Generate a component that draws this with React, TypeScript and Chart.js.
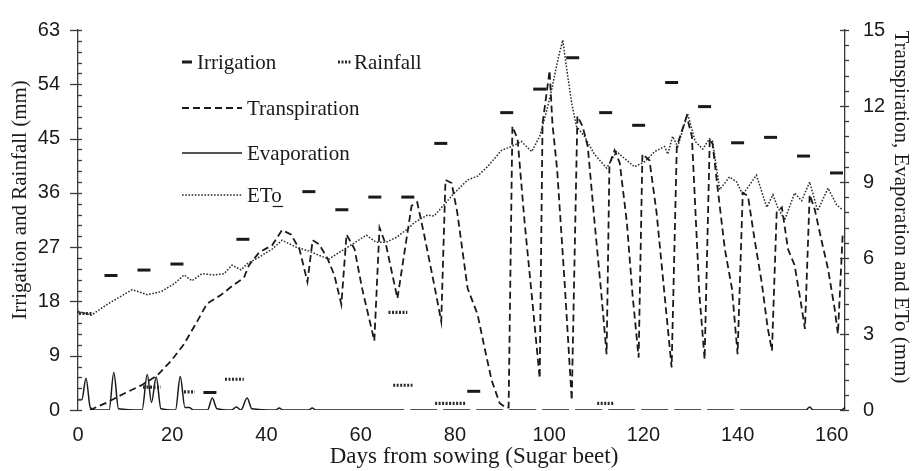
import React, { useEffect, useRef } from "react";
import { Chart, registerables } from "chart.js";

Chart.register(...registerables);

// ---------- DATA ----------
const xTicks = [0, 20, 40, 60, 80, 100, 120, 140, 160];
const leftTicks = [0, 9, 18, 27, 36, 45, 54, 63];
const rightTicks = [0, 3, 6, 9, 12, 15];

// Irrigation (mm, left axis)
const irrigationDays = [7, 14, 21, 28, 35, 49, 56, 63, 70, 77, 84, 91, 98, 105, 112, 119, 126, 133, 140, 147, 154, 161];
const irrigationMm = [22.3, 23.2, 24.2, 2.9, 28.3, 36.2, 33.2, 35.3, 35.3, 44.2, 3.1, 49.3, 53.2, 58.4, 49.3, 47.2, 54.3, 50.3, 44.3, 45.2, 42.1, 39.3];

// Rainfall (mm, left axis) – short runs
const rainStart = [0.2, 13.8, 22.5, 31.2, 65.9, 66.9, 75.8, 110.2];
const rainEnd = [3.2, 17.6, 24.8, 35.2, 69.9, 71.0, 82.2, 113.7];
const rainMm = [16, 3.8, 3.0, 5.1, 16.2, 4.1, 1.1, 1.1];

// Transpiration (mm, right axis)
const transpirationDays = [2.5, 6.2, 9.8, 13.4, 16.8, 19.8, 22.5, 25.3, 27.4, 30.4, 33.1, 34.6, 35.3, 36.3, 38.5, 41.2, 43.3, 45.2, 47, 48.7, 49.8, 51.2, 53, 54.4, 55.9, 57, 58.7, 60.3, 62.9, 64, 65.4, 67.8, 69.3, 70.8, 72, 73.5, 75.6, 77.1, 78, 79.3, 80.5, 82.7, 84.8, 86.3, 87.8, 89.5, 90.9, 91.4, 92.2, 93.3, 94.8, 96.5, 98, 98.6, 100.1, 100.7, 101.7, 103.3, 104.8, 106, 107.1, 108.2, 109.6, 111.1, 112.2, 112.8, 113.9, 115, 116.5, 117.7, 119, 119.8, 121.3, 122.8, 124.5, 126, 127.1, 129.2, 130.3, 131.9, 133, 134.1, 134.7, 135.8, 137.3, 138.8, 140, 141.1, 142.2, 143.6, 145.1, 146.4, 147.3, 148.3, 149.4, 150.7, 152.1, 153.4, 154.3, 155.3, 156.4, 157.9, 159.2, 160.6, 161.3, 162.3];
const transpirationMm = [0, 0.3, 0.65, 0.97, 1.36, 1.95, 2.6, 3.5, 4.2, 4.55, 4.95, 5.14, 5.26, 5.72, 6.23, 6.5, 7.1, 6.93, 6.35, 5.06, 6.7, 6.54, 5.96, 5.33, 4.17, 6.93, 6.35, 4.8, 2.73, 7.2, 6.5, 4.4, 6.23, 8.06, 8.2, 6.9, 4.95, 3.5, 9.08, 8.96, 7.8, 4.8, 3.78, 2.45, 1.17, 0.27, 0.08, 0.1, 11.2, 10.7, 7.4, 4.17, 1.25, 11.3, 13.4, 11.3, 9.5, 5.0, 0.39, 11.6, 11.2, 10.4, 7.5, 4.55, 2.2, 9.7, 10.25, 9.74, 7.4, 4.55, 2.07, 10.1, 9.86, 7.8, 4.55, 1.68, 10.4, 11.6, 10.8, 4.55, 2.0, 10.7, 10.5, 8.7, 6.35, 4.8, 2.2, 8.57, 8.45, 6.74, 5.06, 3.23, 2.34, 7.8, 8.0, 6.35, 5.72, 4.28, 3.2, 8.5, 7.9, 6.62, 5.57, 4.0, 3.0, 6.9];

// Evaporation (mm, right axis)
const evaporationDays = [0, 0.8, 1.7, 2.6, 3.5, 6.6, 7.6, 8.6, 13.6, 14.7, 15.6, 16.6, 17.6, 20.7, 21.7, 22.7, 23.6, 24.5, 27.5, 28.5, 29.5, 32.6, 33.6, 34.6, 35.9, 36.9, 42, 42.7, 43.5, 49, 49.7, 50.5, 63.5, 141, 154.5, 155.3, 156, 162, 162.8];
const evaporationMm = [0.4, 0.4, 1.25, 0.1, 0, 0, 1.48, 0.05, 0, 1.4, 0.3, 1.3, 0.05, 0, 1.32, 0.1, 0.1, 0, 0, 0.47, 0.05, 0, 0.12, 0, 0.47, 0.05, 0, 0.08, 0, 0, 0.08, 0, 0, 0, 0, 0.12, 0, 0, 0.1];

// ETo (mm, right axis)
const etoDays = [0, 2.8, 6.2, 8.3, 11.5, 14.7, 17.6, 20.4, 22.5, 24.2, 26.3, 28.9, 31, 32.7, 34.6, 35.9, 38.5, 41.2, 43.3, 46.3, 49.1, 51.2, 53.3, 55.5, 58.2, 61.2, 63.3, 65.4, 67.6, 70.3, 71.4, 74.2, 75.6, 79.9, 82.7, 84.8, 86.9, 89.9, 92, 94.1, 96.3, 98, 99.4, 100.5, 101.6, 102.2, 102.9, 103.7, 104.8, 105.8, 107.5, 109.6, 112.2, 114.3, 116, 118.1, 120.3, 122.4, 124.5, 125.2, 126.2, 127.3, 129.4, 131, 132.6, 134, 134.7, 136.2, 138.3, 139.8, 141.1, 144, 146.2, 147.5, 148.5, 150, 152.1, 153.6, 155.3, 157, 159.2, 161, 162.3];
const etoMm = [3.9, 3.74, 4.17, 4.4, 4.75, 4.55, 4.67, 4.98, 5.33, 5.1, 5.38, 5.33, 5.38, 5.72, 5.53, 5.77, 6.04, 6.35, 6.7, 6.43, 6.27, 6.1, 5.96, 6.23, 6.54, 6.9, 6.62, 6.62, 6.82, 7.2, 7.4, 7.7, 7.66, 8.57, 9.08, 9.23, 9.6, 10.25, 10.4, 10.6, 10.2, 10.8, 11.76, 12.6, 13.6, 14.1, 14.6, 13.5, 12.1, 11.2, 10.8, 10.1, 9.55, 10.2, 9.93, 9.6, 9.8, 10.2, 10.4, 10.1, 10.8, 10.4, 11.7, 10.6, 10.3, 10.7, 10.6, 8.7, 9.2, 9.0, 8.5, 9.27, 8.0, 8.5, 8.0, 7.5, 8.57, 8.26, 9.0, 7.87, 8.76, 8.1, 7.9];

const xTitle = "Days from sowing (Sugar beet)";
const leftTitle = "Irrigation and Rainfall (mm)";
const rightTitle = "Transpiration, Evaporation and ETo (mm)";

// ---------- STYLE ----------
const INK = "#1a1a1a";
const AXIS = "#3a3a3a";
const SERIF = '"Liberation Serif", "Times New Roman", serif';
const SANS = '"Liberation Sans Narrow", "Arial Narrow", "Liberation Sans", Arial, sans-serif';
const TRANS_DASH = [7, 4];
const ETO_DASH = [1.6, 1.6];
const RAIN_DASH = [2, 1.5];
const EVAP_GAP_DASH = [27, 6];

const zip = (xs: number[], ys: number[]) => xs.map((x, i) => ({ x, y: ys[i] }));

const rainData = (() => {
  const out: { x: number; y: number | null }[] = [];
  rainStart.forEach((s, i) => {
    out.push({ x: s, y: rainMm[i] });
    out.push({ x: rainEnd[i], y: rainMm[i] });
    out.push({ x: rainEnd[i] + 0.01, y: null });
  });
  return out;
})();

const decorPlugin = {
  id: "decor",
  afterDraw(chart: any) {
    const ctx = chart.ctx as CanvasRenderingContext2D;
    const yL = chart.scales.yL;
    const yR = chart.scales.yR;
    const area = chart.chartArea;
    ctx.save();
    ctx.strokeStyle = AXIS;
    ctx.lineWidth = 1.3;
    const nL = Math.round((yL.max - yL.min) / 1.8);
    for (let i = 0; i <= nL; i++) {
      const v = yL.min + i * 1.8;
      const py = Math.round(yL.getPixelForValue(v)) + 0.5;
      const ax = area.left;
      ctx.beginPath();
      ctx.moveTo(i % 5 === 0 ? ax - 8 : ax, py);
      ctx.lineTo(ax + 4, py);
      ctx.stroke();
    }
    const nR = Math.round((yR.max - yR.min) / 0.6);
    for (let i = 0; i <= nR; i++) {
      const v = yR.min + i * 0.6;
      const py = Math.round(yR.getPixelForValue(v)) + 0.5;
      const ax = area.right;
      ctx.beginPath();
      ctx.moveTo(i % 5 === 0 ? ax - 5 : ax, py);
      ctx.lineTo(ax + 4, py);
      ctx.stroke();
    }

    // axis titles
    ctx.fillStyle = INK;
    ctx.font = `21px ${SERIF}`;
    ctx.textAlign = "center";
    ctx.textBaseline = "middle";
    ctx.save();
    ctx.translate(20, 200);
    ctx.rotate(-Math.PI / 2);
    ctx.fillText(leftTitle, 0, 0);
    ctx.restore();
    ctx.save();
    ctx.translate(901, 207);
    ctx.rotate(Math.PI / 2);
    ctx.fillText(rightTitle, 0, 0);
    ctx.restore();
    ctx.font = `23px ${SERIF}`;
    ctx.fillText(xTitle, 474, 457);

    // legend
    const ds = chart.data.datasets;
    ctx.textAlign = "left";
    ctx.font = `21px ${SERIF}`;
    const sample = (d: any, x0: number, x1: number, y: number, lw?: number) => {
      ctx.save();
      ctx.strokeStyle = d.borderColor;
      ctx.lineWidth = lw ?? d.borderWidth;
      ctx.setLineDash(d.borderDash || []);
      ctx.beginPath();
      ctx.moveTo(x0, y);
      ctx.lineTo(x1, y);
      ctx.stroke();
      ctx.restore();
    };
    sample({ borderColor: INK, borderWidth: 3 }, 182, 192, 62);
    ctx.fillText(ds[0].label, 197, 63);
    sample(ds[1], 338, 351, 62);
    ctx.fillText(ds[1].label, 354, 63);
    sample(ds[2], 182, 242, 108);
    ctx.fillText(ds[2].label, 247, 109);
    sample(ds[3], 182, 242, 153);
    ctx.fillText(ds[3].label, 247, 154);
    sample(ds[4], 182, 242, 195, 1.4);
    ctx.fillText(ds[4].label, 247, 196);
    const wET = ctx.measureText("ET").width;
    const wo = ctx.measureText("o").width;
    ctx.strokeStyle = INK;
    ctx.lineWidth = 1.2;
    ctx.beginPath();
    ctx.moveTo(247 + wET, 206.5);
    ctx.lineTo(247 + wET + wo, 206.5);
    ctx.stroke();
    ctx.restore();
  },
};

export default function App() {
  const ref = useRef<HTMLCanvasElement>(null);
  useEffect(() => {
    if (!ref.current) return;
    const tickFont = { family: SANS, size: 20 };
    const chart = new Chart(ref.current, {
      type: "line",
      data: {
        datasets: [
          {
            label: "Irrigation",
            data: zip(irrigationDays, irrigationMm),
            yAxisID: "yL",
            showLine: false,
            pointStyle: "line",
            pointRadius: 6.5,
            pointBorderWidth: 3,
            borderColor: INK,
            backgroundColor: INK,
          },
          {
            label: "Rainfall",
            data: rainData,
            yAxisID: "yL",
            borderColor: "#2a2a2a",
            borderWidth: 3.2,
            borderDash: RAIN_DASH,
            pointRadius: 0,
            spanGaps: false,
          },
          {
            label: "Transpiration",
            data: zip(transpirationDays, transpirationMm),
            yAxisID: "yR",
            borderColor: INK,
            borderWidth: 1.8,
            borderDash: TRANS_DASH,
            pointRadius: 0,
            tension: 0,
          },
          {
            label: "Evaporation",
            data: zip(evaporationDays, evaporationMm),
            yAxisID: "yR",
            borderColor: INK,
            borderWidth: 1.5,
            pointRadius: 0,
            cubicInterpolationMode: "monotone",
            segment: {
              borderDash: (c: any) =>
                c.p0.parsed.x >= 63 && c.p1.parsed.x <= 142 ? EVAP_GAP_DASH : undefined,
            },
          },
          {
            label: "ETo",
            data: zip(etoDays, etoMm),
            yAxisID: "yR",
            borderColor: "#2a2a2a",
            borderWidth: 1.5,
            borderDash: ETO_DASH,
            pointRadius: 0,
            tension: 0,
          },
        ],
      },
      options: {
        responsive: false,
        devicePixelRatio: 1,
        animation: false,
        events: [],
        layout: { padding: { top: 25, left: 0, right: 0, bottom: 0 } },
        plugins: { legend: { display: false }, tooltip: { enabled: false } },
        scales: {
          x: {
            type: "linear",
            min: 0,
            max: 162.8,
            afterBuildTicks: (s: any) => {
              s.ticks = xTicks.map((v) => ({ value: v }));
            },
            afterFit: (s: any) => {
              s.height = 61;
            },
            grid: { display: false, drawTicks: false },
            border: { display: false },
            ticks: { color: INK, font: tickFont, padding: 13, maxRotation: 0 },
          },
          yL: {
            position: "left",
            min: 0,
            max: 63,
            afterBuildTicks: (s: any) => {
              s.ticks = leftTicks.map((v) => ({ value: v }));
            },
            afterFit: (s: any) => {
              s.width = 78;
            },
            grid: { display: false, drawTicks: false },
            border: { display: true, color: AXIS, width: 1.3 },
            ticks: { color: INK, font: tickFont, padding: 18 },
          },
          yR: {
            position: "right",
            min: 0,
            max: 15,
            afterBuildTicks: (s: any) => {
              s.ticks = rightTicks.map((v) => ({ value: v }));
            },
            afterFit: (s: any) => {
              s.width = 69;
            },
            grid: { display: false, drawTicks: false },
            border: { display: true, color: AXIS, width: 1.3 },
            ticks: { color: INK, font: tickFont, padding: 18 },
          },
        },
      },
      plugins: [decorPlugin],
    } as any);
    return () => chart.destroy();
  }, []);
  return (
    <div style={{ position: "absolute", left: 0, top: 0, width: 914, height: 471, background: "#fff" }}>
      <canvas ref={ref} width={914} height={471} style={{ display: "block" }} />
    </div>
  );
}
